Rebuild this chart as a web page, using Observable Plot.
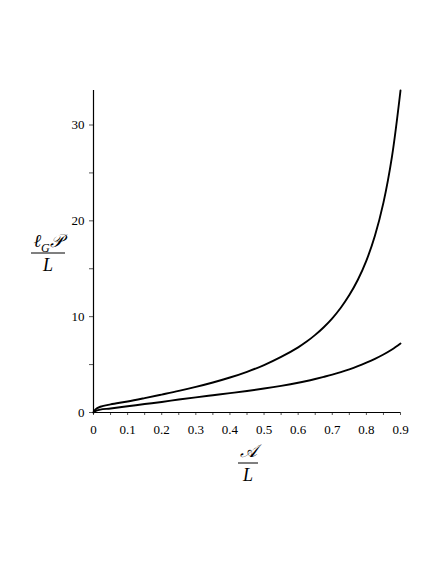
<!DOCTYPE html>
<html>
<head>
<meta charset="utf-8">
<script src="https://cdn.jsdelivr.net/npm/d3@7"></script>
<script src="https://cdn.jsdelivr.net/npm/@observablehq/plot@0.6"></script>
<style>
  html, body { margin: 0; padding: 0; background: #fff; }
  #chart { width: 436px; height: 564px; }
</style>
</head>
<body>
<div id="chart"></div>
<script>
const xValues = [0, 0.005, 0.02, 0.05, 0.1, 0.15, 0.2, 0.25, 0.3, 0.35, 0.4, 0.45, 0.5, 0.55, 0.6, 0.625, 0.65, 0.675, 0.7, 0.725, 0.75, 0.775, 0.8, 0.825, 0.85, 0.875, 0.9];
const upperValues = [0, 0.3, 0.6, 0.85, 1.15, 1.5, 1.87, 2.25, 2.67, 3.13, 3.65, 4.25, 4.95, 5.8, 6.8, 7.4, 8.1, 8.9, 9.83, 10.93, 12.25, 13.85, 15.85, 18.45, 21.9, 26.7, 33.6];
const lowerValues = [0, 0.15, 0.3, 0.42, 0.65, 0.88, 1.1, 1.35, 1.58, 1.8, 2.02, 2.25, 2.5, 2.78, 3.1, 3.29, 3.5, 3.72, 3.95, 4.21, 4.5, 4.83, 5.2, 5.6, 6.05, 6.57, 7.2];
const xTicks = [0, 0.1, 0.2, 0.3, 0.4, 0.5, 0.6, 0.7, 0.8, 0.9];
const xMinorTicks = [0, 0.05, 0.1, 0.15, 0.2, 0.25, 0.3, 0.35, 0.4, 0.45, 0.5, 0.55, 0.6, 0.65, 0.7, 0.75, 0.8, 0.85, 0.9];
const yTicks = [0, 10, 20, 30];
const yMinorTicks = [0, 5, 10, 15, 20, 25, 30];

const upper = xValues.map((x, i) => ({x, y: upperValues[i]}));
const lower = xValues.map((x, i) => ({x, y: lowerValues[i]}));

const FONT = "'Liberation Serif', 'DejaVu Serif', serif";

function fraction(cx, barY, barW, buildNum, den) {
  return () => {
    const g = d3.create("svg:g")
      .attr("font-family", FONT)
      .attr("font-style", "italic")
      .attr("fill", "black");
    const num = g.append("text")
      .attr("x", cx).attr("y", barY - 6)
      .attr("text-anchor", "middle")
      .attr("font-size", 18);
    buildNum(num);
    g.append("line")
      .attr("x1", cx - barW / 2).attr("x2", cx + barW / 2)
      .attr("y1", barY).attr("y2", barY)
      .attr("stroke", "black").attr("stroke-width", 1);
    g.append("text")
      .attr("x", cx).attr("y", barY + 18)
      .attr("text-anchor", "middle")
      .attr("font-size", 18)
      .text(den);
    return g.node();
  };
}

const yLabel = fraction(48, 253, 34, (t) => {
  t.append("tspan").text("\u2113");
  t.append("tspan").attr("font-size", 12).attr("dy", 5).text("G");
  t.append("tspan").attr("dy", -5).text("\uD835\uDCAB");
}, "L");

const xLabel = fraction(248, 463, 20, (t) => {
  t.append("tspan").text("\uD835\uDC9C");
}, "L");

const plot = Plot.plot({
  width: 436,
  height: 564,
  marginLeft: 93,
  marginRight: 36,
  marginTop: 90,
  marginBottom: 152,
  style: {fontFamily: FONT, fontSize: "13px", background: "white", color: "black"},
  x: {domain: [0, 0.9], label: null},
  y: {domain: [0, 33.6], label: null},
  marks: [
    Plot.axisX(xMinorTicks, {tickSize: 3, tickFormat: () => "", stroke: "#555", label: null}),
    Plot.axisX(xTicks, {tickSize: 0, tickPadding: 12, label: null, fill: "black",
      tickFormat: d => d === 0 ? "0" : d.toFixed(1), fontSize: 13}),
    Plot.axisY(yMinorTicks, {tickSize: 4, tickFormat: () => "", stroke: "#555", label: null}),
    Plot.axisY(yTicks, {tickSize: 0, tickPadding: 9, label: null, fill: "black", fontSize: 13}),
    Plot.ruleX([0], {stroke: "black", strokeWidth: 1.2}),
    Plot.ruleY([0], {stroke: "black", strokeWidth: 1.2}),
    Plot.line(upper, {x: "x", y: "y", stroke: "black", strokeWidth: 1.9, curve: "catmull-rom"}),
    Plot.line(lower, {x: "x", y: "y", stroke: "black", strokeWidth: 1.9, curve: "catmull-rom"}),
    yLabel,
    xLabel
  ]
});
document.getElementById("chart").appendChild(plot);
</script>
</body>
</html>
